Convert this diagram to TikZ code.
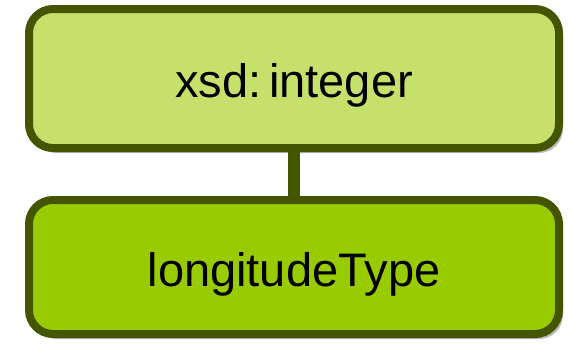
\documentclass[tikz,border=0pt]{standalone}
\usepackage{fontspec}
\setmainfont{Liberation Sans}
\usetikzlibrary{positioning}
\usetikzlibrary{shadows}

\definecolor{darkolive}{HTML}{445500}
\definecolor{lightlime}{HTML}{C5E16B}
\definecolor{lime}{HTML}{99CC00}

\begin{document}
\begin{tikzpicture}[
typebox/.style = {shape = rectangle, rounded corners = 24pt, line width = 8pt, draw = darkolive, minimum width = 530pt, inner sep = 0pt, text height = 38pt, text depth = 0pt, font = \fontsize{47}{56}\selectfont, drop shadow = {shadow xshift = 4pt, shadow yshift = -5pt, fill = black!28, opacity = 1}},
basetype/.style = {typebox, fill = lightlime, minimum height = 139pt},
subtype/.style = {typebox, fill = lime, minimum height = 134pt},
link/.style = {line width = 12pt, draw = darkolive},
]
\useasboundingbox (0,0) rectangle (572pt,-343pt);
\node[basetype] (integer) at (294pt,-78.5pt) {xsd:\,integer};
\node[subtype] (longitude) [below = 44pt of integer] {longitudeType};

\path[link] (integer) edge (longitude);
\end{tikzpicture}
\end{document}
